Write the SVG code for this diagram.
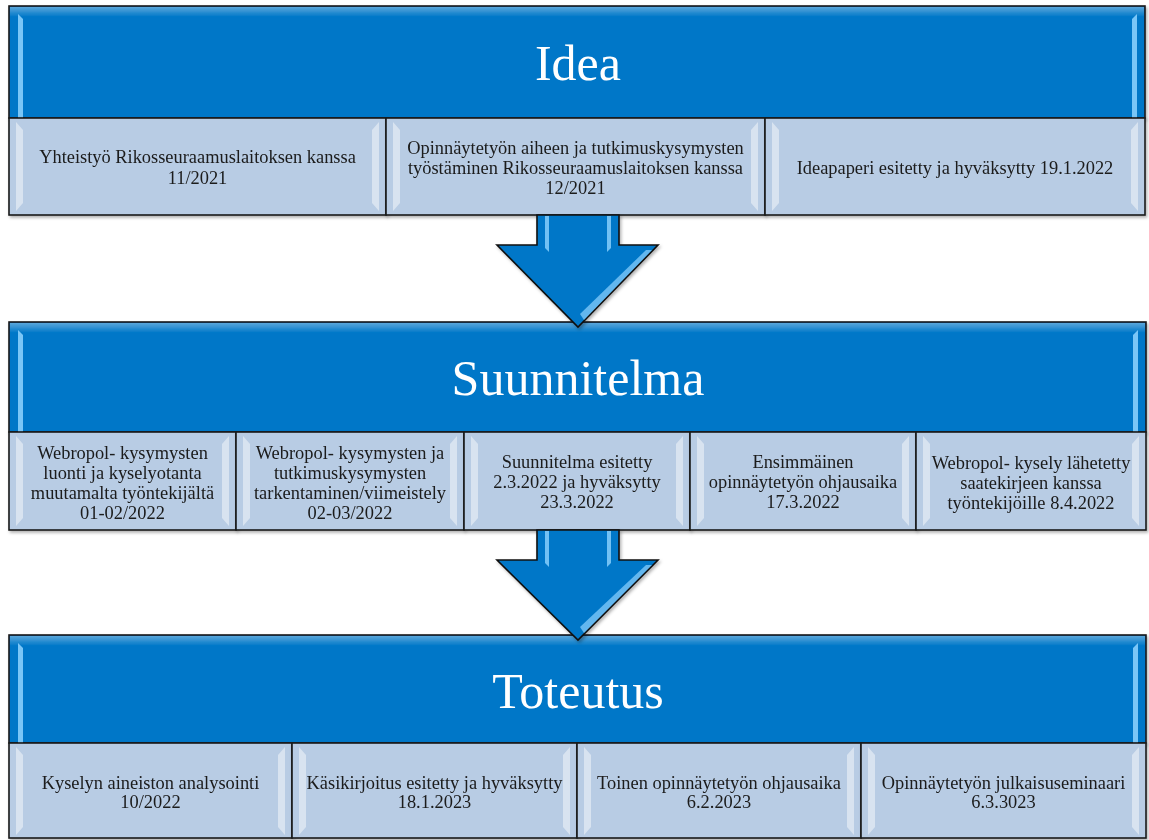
<svg xmlns="http://www.w3.org/2000/svg" width="1149" height="840" viewBox="0 0 1149 840">
<defs>
<style>
.hdr{fill:#0077C8;stroke:#1a1a1a;stroke-width:1.6}
.sub{fill:#B8CCE4;stroke:#1a1a1a;stroke-width:1.6}
.ht{font-family:"Liberation Serif","Times New Roman",serif;font-size:50px;fill:#ffffff;text-anchor:middle}
.st{font-family:"Liberation Serif","Times New Roman",serif;font-size:18.4px;fill:#1a1a1a;text-anchor:middle}
.hl{fill:#8fd3ff;opacity:0.85}
.shl{fill:#ffffff;opacity:0.45}
.arrow{fill:#0077C8;stroke:#111111;stroke-width:1.6;stroke-linejoin:miter}
</style>
<filter id="sh" x="-5%" y="-5%" width="110%" height="115%">
<feDropShadow dx="1.5" dy="2" stdDeviation="1.5" flood-color="#000" flood-opacity="0.3"/>
</filter>
<linearGradient id="topg" x1="0" y1="0" x2="0" y2="1">
<stop offset="0" stop-color="#ffffff" stop-opacity="0.35"/>
<stop offset="1" stop-color="#ffffff" stop-opacity="0"/>
</linearGradient>
</defs>
<rect width="1149" height="840" fill="#ffffff"/>

<!-- Idea -->
<g id="idea" filter="url(#sh)">
<rect class="hdr" x="9" y="6" width="1136" height="112"/>
<rect x="10" y="7" width="1134" height="10" fill="url(#topg)"/>
<path class="hl" d="M18,14 L23,19 L23,118 L18,118 Z"/>
<path class="hl" d="M1137,14 L1132,19 L1132,118 L1137,118 Z"/>
<text class="ht" x="578" y="80">Idea</text>
</g>
<g id="idea-1" filter="url(#sh)">
<rect class="sub" x="9" y="118" width="377" height="97"/>
<path class="shl" d="M16,122 L23,130 L23,203 L16,211 Z"/>
<path class="shl" d="M379,122 L372,130 L372,203 L379,211 Z"/>
<text class="st" x="197.5" y="163">Yhteistyö Rikosseuraamuslaitoksen kanssa</text>
<text class="st" x="197.5" y="184">11/2021</text>
</g>
<g id="idea-2" filter="url(#sh)">
<rect class="sub" x="386" y="118" width="379" height="97"/>
<path class="shl" d="M393,122 L400,130 L400,203 L393,211 Z"/>
<path class="shl" d="M758,122 L751,130 L751,203 L758,211 Z"/>
<text class="st" x="575.5" y="154">Opinnäytetyön aiheen ja tutkimuskysymysten</text>
<text class="st" x="575.5" y="174">työstäminen Rikosseuraamuslaitoksen kanssa</text>
<text class="st" x="575.5" y="194">12/2021</text>
</g>
<g id="idea-3" filter="url(#sh)">
<rect class="sub" x="765" y="118" width="380" height="97"/>
<path class="shl" d="M772,122 L779,130 L779,203 L772,211 Z"/>
<path class="shl" d="M1138,122 L1131,130 L1131,203 L1138,211 Z"/>
<text class="st" x="955" y="174">Ideapaperi esitetty ja hyväksytty 19.1.2022</text>
</g>

<!-- Suunnitelma -->
<g id="suunnitelma" filter="url(#sh)">
<rect class="hdr" x="9" y="322" width="1137" height="110"/>
<rect x="10" y="323" width="1135" height="10" fill="url(#topg)"/>
<path class="hl" d="M18,330 L23,335 L23,432 L18,432 Z"/>
<path class="hl" d="M1138,330 L1133,335 L1133,432 L1138,432 Z"/>
<text class="ht" x="578" y="395">Suunnitelma</text>
</g>
<g id="suunnitelma-1" filter="url(#sh)">
<rect class="sub" x="9" y="432" width="227" height="98"/>
<path class="shl" d="M16,436 L23,444 L23,518 L16,526 Z"/>
<path class="shl" d="M229,436 L222,444 L222,518 L229,526 Z"/>
<text class="st" x="122.5" y="459">Webropol- kysymysten</text>
<text class="st" x="122.5" y="479">luonti ja kyselyotanta</text>
<text class="st" x="122.5" y="499">muutamalta työntekijältä</text>
<text class="st" x="122.5" y="519">01-02/2022</text>
</g>
<g id="suunnitelma-2" filter="url(#sh)">
<rect class="sub" x="236" y="432" width="228" height="98"/>
<path class="shl" d="M243,436 L250,444 L250,518 L243,526 Z"/>
<path class="shl" d="M457,436 L450,444 L450,518 L457,526 Z"/>
<text class="st" x="350" y="459">Webropol- kysymysten ja</text>
<text class="st" x="350" y="479">tutkimuskysymysten</text>
<text class="st" x="350" y="499">tarkentaminen/viimeistely</text>
<text class="st" x="350" y="519">02-03/2022</text>
</g>
<g id="suunnitelma-3" filter="url(#sh)">
<rect class="sub" x="464" y="432" width="226" height="98"/>
<path class="shl" d="M471,436 L478,444 L478,518 L471,526 Z"/>
<path class="shl" d="M683,436 L676,444 L676,518 L683,526 Z"/>
<text class="st" x="577" y="468">Suunnitelma esitetty</text>
<text class="st" x="577" y="488">2.3.2022 ja hyväksytty</text>
<text class="st" x="577" y="508">23.3.2022</text>
</g>
<g id="suunnitelma-4" filter="url(#sh)">
<rect class="sub" x="690" y="432" width="226" height="98"/>
<path class="shl" d="M697,436 L704,444 L704,518 L697,526 Z"/>
<path class="shl" d="M909,436 L902,444 L902,518 L909,526 Z"/>
<text class="st" x="803" y="468">Ensimmäinen</text>
<text class="st" x="803" y="488">opinnäytetyön ohjausaika</text>
<text class="st" x="803" y="508">17.3.2022</text>
</g>
<g id="suunnitelma-5" filter="url(#sh)">
<rect class="sub" x="916" y="432" width="230" height="98"/>
<path class="shl" d="M923,436 L930,444 L930,518 L923,526 Z"/>
<path class="shl" d="M1139,436 L1132,444 L1132,518 L1139,526 Z"/>
<text class="st" x="1031" y="469">Webropol- kysely lähetetty</text>
<text class="st" x="1031" y="489">saatekirjeen kanssa</text>
<text class="st" x="1031" y="509">työntekijöille 8.4.2022</text>
</g>

<!-- Toteutus -->
<g id="toteutus" filter="url(#sh)">
<rect class="hdr" x="9" y="635" width="1137" height="108"/>
<rect x="10" y="636" width="1135" height="10" fill="url(#topg)"/>
<path class="hl" d="M18,643 L23,648 L23,743 L18,743 Z"/>
<path class="hl" d="M1138,643 L1133,648 L1133,743 L1138,743 Z"/>
<text class="ht" x="578" y="708">Toteutus</text>
</g>
<g id="toteutus-1" filter="url(#sh)">
<rect class="sub" x="9" y="743" width="283" height="95"/>
<path class="shl" d="M16,747 L23,755 L23,827 L16,835 Z"/>
<path class="shl" d="M285,747 L278,755 L278,827 L285,835 Z"/>
<text class="st" x="150.5" y="789">Kyselyn aineiston analysointi</text>
<text class="st" x="150.5" y="808">10/2022</text>
</g>
<g id="toteutus-2" filter="url(#sh)">
<rect class="sub" x="292" y="743" width="285" height="95"/>
<path class="shl" d="M299,747 L306,755 L306,827 L299,835 Z"/>
<path class="shl" d="M570,747 L563,755 L563,827 L570,835 Z"/>
<text class="st" x="434.5" y="789">Käsikirjoitus esitetty ja hyväksytty</text>
<text class="st" x="434.5" y="808">18.1.2023</text>
</g>
<g id="toteutus-3" filter="url(#sh)">
<rect class="sub" x="577" y="743" width="284" height="95"/>
<path class="shl" d="M584,747 L591,755 L591,827 L584,835 Z"/>
<path class="shl" d="M854,747 L847,755 L847,827 L854,835 Z"/>
<text class="st" x="719" y="789">Toinen opinnäytetyön ohjausaika</text>
<text class="st" x="719" y="808">6.2.2023</text>
</g>
<g id="toteutus-4" filter="url(#sh)">
<rect class="sub" x="861" y="743" width="285" height="95"/>
<path class="shl" d="M868,747 L875,755 L875,827 L868,835 Z"/>
<path class="shl" d="M1139,747 L1132,755 L1132,827 L1139,835 Z"/>
<text class="st" x="1003.5" y="789">Opinnäytetyön julkaisuseminaari</text>
<text class="st" x="1003.5" y="808">6.3.3023</text>
</g>

<!-- Connectors -->
<g id="connectors" filter="url(#sh)">
<g id="arrow-1">
<path class="arrow" d="M537,215 L619,215 L619,245 L658,245 L578,327 L497,245 L537,245 Z"/>
<path d="M545,216 L549,216 L549,252 L545,248 Z" fill="#8fd3ff" opacity="0.8"/>
<path d="M607,216 L611,216 L611,248 L607,252 Z" fill="#8fd3ff" opacity="0.8"/>
<path d="M646,250 L652,250 L584,320 L580,314 Z" fill="#8fd3ff" opacity="0.7"/>
</g>
<g id="arrow-2">
<path class="arrow" d="M537,530 L619,530 L619,560 L658,560 L578,640 L497,560 L537,560 Z"/>
<path d="M545,531 L549,531 L549,567 L545,563 Z" fill="#8fd3ff" opacity="0.8"/>
<path d="M607,531 L611,531 L611,563 L607,567 Z" fill="#8fd3ff" opacity="0.8"/>
<path d="M646,565 L652,565 L584,633 L580,627 Z" fill="#8fd3ff" opacity="0.7"/>
</g>
</g>
</svg>
